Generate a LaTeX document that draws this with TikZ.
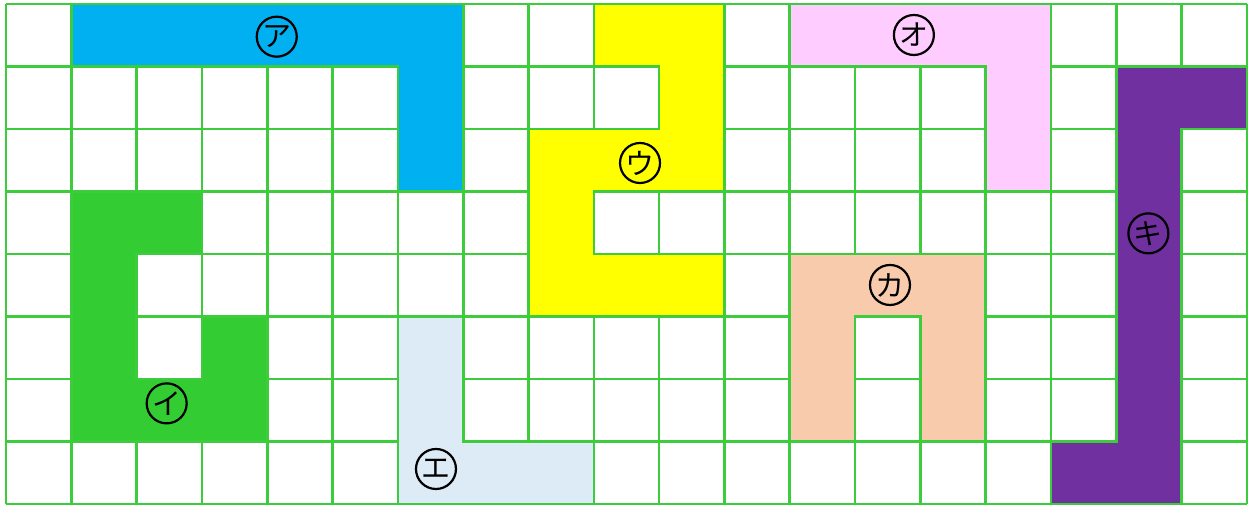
\documentclass[tikz,border=0pt]{standalone}
\usepackage{fontspec}
\newfontfamily\jpfont{Noto Sans CJK JP}
\definecolor{gridgreen}{RGB}{60,204,60}
\definecolor{cA}{RGB}{0,176,240}
\definecolor{cI}{RGB}{51,204,51}
\definecolor{cU}{RGB}{255,255,0}
\definecolor{cE}{RGB}{221,235,247}
\definecolor{cO}{RGB}{255,204,255}
\definecolor{cKa}{RGB}{248,203,173}
\definecolor{cKi}{RGB}{112,48,160}
\begin{document}
\begin{tikzpicture}[x=32.658pt,y=-31.25pt,
  gridline/.style={draw=gridgreen,line width=1.3pt},
  piece/.style={draw=gridgreen,line width=1.3pt,line join=miter},
  circlabel/.style={circle,draw=black,line width=1.1pt,minimum size=20pt,inner sep=0pt,font=\jpfont\fontsize{14.5}{14.5}\selectfont}]
\useasboundingbox (-0.0919,-0.064) rectangle (19.046,8.032);
\fill[white] (-0.0919,-0.064) rectangle (19.046,8.032);
% grid
\foreach \i in {0,...,19} \draw[gridline] (\i,0) -- (\i,8);
\foreach \j in {0,...,8} \draw[gridline] (0,\j) -- (19,\j);
% pieces
\path[piece,fill=cA] (1,0)--(7,0)--(7,3)--(6,3)--(6,1)--(1,1)--cycle;
\path[piece,fill=cI] (1,3)--(3,3)--(3,4)--(2,4)--(2,6)--(3,6)--(3,5)--(4,5)--(4,7)--(1,7)--cycle;
\path[piece,fill=cU] (9,0)--(11,0)--(11,3)--(9,3)--(9,4)--(11,4)--(11,5)--(8,5)--(8,2)--(10,2)--(10,1)--(9,1)--cycle;
\path[piece,fill=cE] (6,5)--(7,5)--(7,7)--(9,7)--(9,8)--(6,8)--cycle;
\path[piece,fill=cO] (12,0)--(16,0)--(16,3)--(15,3)--(15,1)--(12,1)--cycle;
\path[piece,fill=cKa] (12,4)--(15,4)--(15,7)--(14,7)--(14,5)--(13,5)--(13,7)--(12,7)--cycle;
\path[piece,fill=cKi] (17,1)--(19,1)--(19,2)--(18,2)--(18,8)--(16,8)--(16,7)--(17,7)--cycle;
% labels
\node[circlabel] (la) at (4.145,0.523) {ア};
\node[circlabel] (li) at (2.46,6.39) {イ};
\node[circlabel] (lu) at (9.707,2.544) {ウ};
\node[circlabel] (le) at (6.583,7.44) {エ};
\node[circlabel] (lo) at (13.9,0.496) {オ};
\node[circlabel] (lka) at (13.534,4.496) {カ};
\node[circlabel] (lki) at (17.49,3.67) {キ};
\end{tikzpicture}
\end{document}
